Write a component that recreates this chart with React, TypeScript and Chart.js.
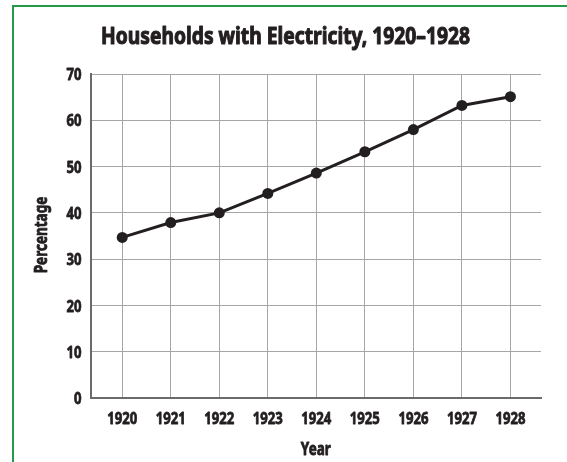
import React, { useEffect, useRef } from 'react';
import { Chart, registerables } from 'chart.js';

Chart.register(...registerables);

const chartTitle = 'Households with Electricity, 1920\u20131928';
const xAxisTitle = 'Year';
const yAxisTitle = 'Percentage';
const years = [1920, 1921, 1922, 1923, 1924, 1925, 1926, 1927, 1928];
const percentages = [34.7, 37.9, 40.0, 44.2, 48.6, 53.2, 58.0, 63.2, 65.1];
const yTicks = [0, 10, 20, 30, 40, 50, 60, 70];

const FONT = '"Noto Sans", "Open Sans", "DejaVu Sans", sans-serif';
const INK = '#231f20';

function drawText(ctx: CanvasRenderingContext2D, text: string, x: number, y: number, align: CanvasTextAlign, sx: number, stroke: number) {
  ctx.save();
  ctx.translate(x, y);
  ctx.scale(sx, 1);
  ctx.textAlign = align;
  ctx.fillText(text, 0, 0);
  if (stroke > 0) {
    ctx.lineWidth = stroke;
    ctx.lineJoin = 'round';
    ctx.strokeText(text, 0, 0);
  }
  ctx.restore();
}

// Draws condensed bold text (title, tick labels, axis titles) at positions from the chart's scales
const condensedTextPlugin = {
  id: 'condensedText',
  afterDraw(chart: any) {
    const ctx: CanvasRenderingContext2D = chart.ctx;
    const xs = chart.scales.x;
    const ys = chart.scales.y;
    ctx.save();
    ctx.fillStyle = INK;
    ctx.strokeStyle = INK;
    ctx.textBaseline = 'alphabetic';

    ctx.font = `bold 24px ${FONT}`;
    const sTitle = 369 / ctx.measureText(chartTitle).width;
    drawText(ctx, chartTitle, 285.5, 43.5, 'center', sTitle, 1.1);

    ctx.font = `bold 16.5px ${FONT}`;
    const s = 30 / ctx.measureText('1920').width;
    years.forEach((v) => drawText(ctx, String(v), xs.getPixelForValue(v), 423.5, 'center', s, 0.8));
    yTicks.forEach((v) => drawText(ctx, String(v), 81.5, ys.getPixelForValue(v) + 6.2, 'right', s, 0.8));

    ctx.font = `bold 17px ${FONT}`;
    drawText(ctx, xAxisTitle, (xs.left + xs.right) / 2, 454.5, 'center', s, 0.8);

    ctx.save();
    ctx.translate(46.8, (ys.top + ys.bottom) / 2 - 1);
    ctx.rotate(-Math.PI / 2);
    ctx.scale(s, 1);
    ctx.textAlign = 'center';
    ctx.fillText(yAxisTitle, 0, 0);
    ctx.lineWidth = 0.8;
    ctx.lineJoin = 'round';
    ctx.strokeText(yAxisTitle, 0, 0);
    ctx.restore();

    ctx.restore();
  },
};

export default function App() {
  const ref = useRef<HTMLCanvasElement | null>(null);

  useEffect(() => {
    if (!ref.current) return;
    const chart = new Chart(ref.current, {
      type: 'line',
      data: {
        datasets: [
          {
            data: years.map((y, i) => ({ x: y, y: percentages[i] })),
            borderColor: INK,
            backgroundColor: INK,
            borderWidth: 3,
            pointRadius: 5.5,
            pointBackgroundColor: INK,
            pointBorderColor: INK,
            pointBorderWidth: 0,
            tension: 0,
          },
        ],
      },
      options: {
        animation: false,
        responsive: false,
        maintainAspectRatio: false,
        layout: { padding: { left: 0, right: 26, top: 74, bottom: 0 }, autoPadding: false },
        plugins: {
          legend: { display: false },
          tooltip: { enabled: false },
          title: { display: false, text: chartTitle },
        },
        scales: {
          x: {
            type: 'linear',
            min: 1919.35,
            max: 1928.63,
            afterBuildTicks: (axis: any) => {
              axis.ticks = years.map((v) => ({ value: v }));
            },
            afterFit: (scale: any) => {
              scale.height = 462 - 398;
            },
            grid: { color: '#a6a6a6', lineWidth: 1, drawTicks: false },
            border: { color: '#6a6a6a', width: 2 },
            ticks: { display: false },
            title: { display: false, text: xAxisTitle },
          },
          y: {
            type: 'linear',
            min: 0,
            max: 70,
            afterBuildTicks: (axis: any) => {
              axis.ticks = yTicks.map((v) => ({ value: v }));
            },
            afterFit: (scale: any) => {
              scale.width = 90.7;
            },
            grid: { color: '#a6a6a6', lineWidth: 1, drawTicks: false },
            border: { color: '#6a6a6a', width: 2 },
            ticks: { display: false },
            title: { display: false, text: yAxisTitle },
          },
        },
      },
      plugins: [condensedTextPlugin],
    });
    return () => chart.destroy();
  }, []);

  return (
    <div style={{ position: 'fixed', left: 0, top: 0, width: 567, height: 462, background: '#fff', overflow: 'hidden' }}>
      <canvas ref={ref} width={567} height={462} style={{ position: 'absolute', left: 0, top: 0, width: 567, height: 462 }} />
      <div
        style={{
          position: 'absolute',
          left: 12,
          top: 5,
          width: 600,
          height: 500,
          borderLeft: '2px solid #24994a',
          borderTop: '2px solid #24994a',
          pointerEvents: 'none',
        }}
      />
    </div>
  );
}
